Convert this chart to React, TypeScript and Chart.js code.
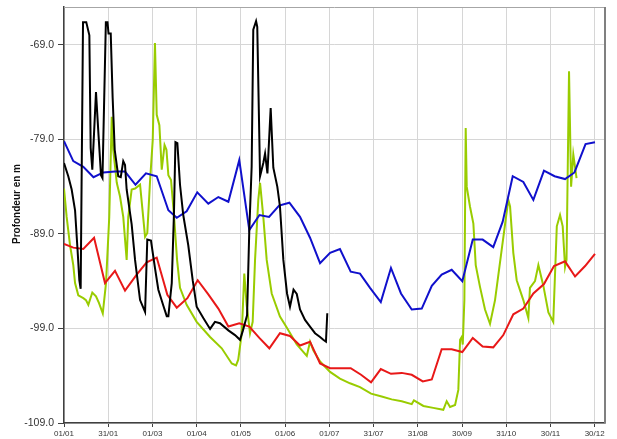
import React, { useEffect, useRef } from 'react';
import { Chart, registerables } from 'chart.js';

Chart.register(...registerables);

// Axis ticks
const xTickDays = [0, 30, 60, 90, 120, 150, 180, 210, 240, 270, 300, 330, 360];
const xTickLabels = ['01/01', '31/01', '01/03', '01/04', '01/05', '01/06', '01/07', '31/07', '31/08', '30/09', '31/10', '30/11', '30/12'];
const yTickValues = [-109, -99, -89, -79, -69];
const yTitle = 'Profondeur en m';

// Blue series (weekly)
const blueDays = [0, 6.3, 13.1, 20.0, 26.7, 34.6, 41.4, 48.5, 55.6, 62.9, 70.8, 76.5, 83.2, 90.4, 97.9, 104.7, 111.5, 118.9, 125.7, 132.6, 139.1, 145.9, 152.9, 160.1, 166.9, 173.7, 180.5, 187.2, 194.5, 200.8, 207.6, 214.9, 221.8, 228.6, 235.9, 242.7, 249.5, 256.2, 263.0, 270.2, 277.3, 284.0, 291.2, 297.6, 304.4, 311.6, 318.4, 325.6, 332.8, 339.9, 346.3, 353.8, 360.2];
const blueDepths = [-79.2, -81.3, -81.9, -83.0, -82.5, -82.4, -82.4, -83.8, -82.6, -82.9, -86.5, -87.3, -86.6, -84.6, -85.8, -85.1, -85.6, -81.2, -88.6, -87.0, -87.2, -86.0, -85.7, -87.2, -89.4, -92.1, -91.0, -90.6, -93.0, -93.2, -94.7, -96.2, -92.6, -95.3, -97.0, -96.9, -94.5, -93.3, -92.8, -94.0, -89.6, -89.6, -90.4, -87.7, -82.9, -83.5, -85.4, -82.3, -82.9, -83.2, -82.5, -79.5, -79.3];

// Red series (weekly)
const redDays = [0, 6.3, 13.1, 20.4, 27.8, 34.6, 41.4, 49.3, 56.1, 62.9, 70.1, 76.5, 83.7, 90.7, 97.9, 104.7, 111.5, 118.9, 125.7, 132.5, 139.3, 146.5, 153.3, 160.1, 166.9, 173.7, 180.5, 187.2, 194.5, 201.5, 208.3, 214.9, 221.8, 229.1, 235.9, 243.4, 249.5, 256.2, 263.0, 270.2, 277.3, 284.0, 291.2, 298.0, 304.8, 311.6, 318.4, 325.6, 332.4, 339.9, 346.7, 353.5, 360.2];
const redDepths = [-90.05, -90.45, -90.6, -89.4, -94.2, -92.9, -95.0, -93.3, -92.0, -91.5, -95.45, -96.8, -95.8, -93.9, -95.4, -96.9, -98.8, -98.45, -98.8, -100.0, -101.1, -99.5, -99.8, -100.8, -100.4, -102.7, -103.2, -103.2, -103.2, -103.9, -104.7, -103.3, -103.8, -103.7, -103.9, -104.6, -104.4, -101.2, -101.2, -101.5, -100.0, -100.9, -101.0, -99.7, -97.5, -96.9, -95.3, -94.3, -92.4, -91.9, -93.5, -92.4, -91.1];

// Green series
const greenDays = [0, 1.8, 4.1, 6.3, 7.5, 9.7, 13.1, 14.9, 16.5, 19.2, 21.7, 23.7, 26.3, 28.5, 30.7, 32.4, 33.4, 35.8, 38.0, 40.2, 42.5, 43.6, 45.9, 48.2, 51.6, 55.0, 56.5, 58.3, 60.2, 61.7, 62.9, 64.7, 66.3, 68.2, 69.5, 70.8, 72.6, 74.6, 76.7, 78.7, 83.2, 90.0, 99.1, 107.0, 113.8, 116.7, 118.2, 120.6, 122.3, 123.9, 126.2, 128.0, 129.6, 131.8, 133.0, 135.2, 137.5, 140.9, 146.5, 151.1, 157.9, 164.7, 166.9, 169.1, 173.7, 180.5, 187.2, 194.0, 200.8, 208.3, 215.5, 222.3, 229.1, 235.9, 237.4, 243.8, 250.5, 257.3, 259.6, 261.9, 265.3, 267.5, 268.7, 269.8, 270.5, 271.6, 272.5, 273.2, 275.4, 277.7, 279.3, 282.2, 285.6, 289.0, 292.4, 296.9, 301.4, 302.6, 304.8, 307.1, 311.6, 315.0, 316.1, 319.5, 321.8, 325.2, 328.6, 331.9, 334.3, 336.5, 338.3, 339.9, 340.9, 342.6, 344.0, 345.5, 347.7];
const greenDepths = [-84.2, -87.2, -90.2, -92.3, -94.2, -95.5, -95.8, -96.0, -96.5, -95.2, -95.6, -96.3, -97.4, -94.2, -87.2, -76.6, -80.1, -83.6, -85.05, -87.2, -91.75, -87.2, -84.3, -84.2, -83.8, -89.3, -88.9, -83.6, -79.05, -68.8, -76.4, -77.5, -82.2, -79.6, -80.1, -82.8, -83.3, -87.0, -91.75, -94.7, -96.5, -98.3, -99.9, -101.1, -102.7, -102.9, -102.3, -99.5, -93.2, -96.5, -99.5, -98.3, -91.75, -85.4, -83.6, -87.2, -91.75, -95.3, -97.75, -98.9, -100.7, -101.9, -100.4, -101.3, -102.5, -103.6, -104.3, -104.8, -105.2, -105.9, -106.2, -106.5, -106.7, -107.0, -106.6, -107.2, -107.4, -107.6, -106.7, -107.3, -107.1, -105.5, -100.2, -99.9, -100.7, -96.0, -77.8, -84.0, -86.1, -87.9, -92.3, -94.6, -97.0, -98.5, -96.0, -90.7, -85.4, -86.1, -91.0, -93.9, -96.0, -97.9, -94.7, -94.0, -92.3, -94.5, -97.3, -98.3, -88.2, -87.0, -88.2, -92.5, -91.75, -71.8, -84.0, -80.6, -83.1];

// Black series
const blackDays = [0, 2.9, 5.2, 7.5, 9.2, 10.4, 11.3, 12.9, 15.1, 17.2, 18.1, 19.2, 21.7, 23.4, 25.1, 26.1, 28.4, 29.5, 30.2, 31.7, 33.0, 34.4, 36.8, 38.5, 40.2, 41.4, 42.5, 45.9, 48.2, 51.6, 55.0, 56.5, 59.0, 61.7, 64.0, 67.4, 69.7, 70.8, 71.9, 73.1, 74.6, 75.6, 76.9, 78.7, 80.9, 84.3, 87.3, 90.0, 94.5, 99.1, 102.4, 105.8, 111.5, 116.0, 119.4, 121.4, 124.2, 125.7, 127.3, 128.4, 130.3, 131.1, 133.0, 135.2, 136.4, 138.0, 140.2, 142.0, 144.7, 146.5, 148.8, 151.3, 153.3, 155.7, 157.9, 160.1, 163.5, 166.9, 170.3, 173.7, 175.9, 177.7, 178.6];
const blackDepths = [-81.5, -82.9, -84.3, -86.5, -90.7, -93.9, -94.8, -66.6, -66.6, -68.0, -79.9, -82.2, -74.0, -78.5, -82.8, -83.1, -66.6, -66.6, -67.8, -67.8, -74.6, -80.1, -82.9, -83.0, -81.3, -81.7, -84.3, -88.0, -91.75, -96.0, -97.25, -89.6, -89.7, -92.6, -94.9, -96.6, -97.7, -97.7, -96.0, -94.2, -86.8, -79.3, -79.4, -83.8, -87.0, -90.2, -93.9, -96.7, -97.9, -99.05, -98.3, -98.45, -99.2, -99.7, -100.2, -99.2, -97.6, -88.6, -81.9, -67.4, -66.5, -67.1, -82.9, -81.5, -80.5, -82.6, -75.7, -82.0, -84.0, -86.1, -91.75, -95.3, -96.7, -94.9, -95.35, -97.0, -98.1, -98.8, -99.5, -99.9, -100.2, -100.4, -97.4];

const toPoints = (xs: number[], ys: number[]) => xs.map((x, i) => ({ x, y: ys[i] }));

const FONT = '"Liberation Sans", Arial, sans-serif';

const framePlugin = {
  id: 'frame',
  afterDraw(chart: any) {
    const { ctx, chartArea } = chart;
    ctx.save();
    // top border
    ctx.strokeStyle = '#a6a6a6';
    ctx.lineWidth = 1;
    ctx.beginPath();
    ctx.moveTo(chartArea.left, chartArea.top + 0.5);
    ctx.lineTo(chartArea.right, chartArea.top + 0.5);
    ctx.stroke();
    // right border
    ctx.strokeStyle = '#808080';
    ctx.lineWidth = 2;
    ctx.beginPath();
    ctx.moveTo(chartArea.right, chartArea.top);
    ctx.lineTo(chartArea.right, chartArea.bottom);
    ctx.stroke();
    // y title
    ctx.translate(17, 204);
    ctx.rotate(-Math.PI / 2);
    ctx.font = 'bold 10px "Liberation Sans Narrow", "Liberation Sans", Arial, sans-serif';
    ctx.fillStyle = '#111';
    ctx.textAlign = 'center';
    ctx.textBaseline = 'middle';
    ctx.fillText(yTitle, 0, 0);
    ctx.restore();
  },
};

export default function App() {
  const canvasRef = useRef<HTMLCanvasElement | null>(null);

  useEffect(() => {
    if (!canvasRef.current) return;
    const line = (label: string, xs: number[], ys: number[], color: string) => ({
      label,
      data: toPoints(xs, ys),
      borderColor: color,
      backgroundColor: color,
      borderWidth: 2,
      pointRadius: 0,
      tension: 0,
      fill: false,
    });
    const chart = new Chart(canvasRef.current, {
      type: 'line',
      data: {
        datasets: [
          line('Noir', blackDays, blackDepths, '#000000'),
          line('Bleu', blueDays, blueDepths, '#1010cc'),
          line('Rouge', redDays, redDepths, '#e81818'),
          line('Vert', greenDays, greenDepths, '#99cc00'),
        ],
      },
      options: {
        animation: false,
        responsive: false,
        maintainAspectRatio: false,
        layout: { padding: { top: 7, right: 12, left: 0, bottom: 0 } },
        plugins: { legend: { display: false }, tooltip: { enabled: false }, title: { display: false } },
        scales: {
          x: {
            type: 'linear',
            min: 0,
            max: 367,
            afterBuildTicks: (scale: any) => {
              scale.ticks = xTickDays.map((v) => ({ value: v }));
            },
            afterFit: (scale: any) => {
              scale.height = 16;
              scale.paddingLeft = 0;
              scale.paddingRight = 0;
            },
            ticks: {
              autoSkip: false,
              maxRotation: 0,
              minRotation: 0,
              padding: 2,
              color: '#333',
              font: { family: FONT, size: 8 },
              callback: (_v: any, i: number) => xTickLabels[i],
            },
            grid: { color: '#d6d6d6', lineWidth: 1, tickLength: 4, tickColor: '#404040' },
            border: { display: true, color: '#404040', width: 1.5 },
          },
          y: {
            type: 'linear',
            min: -109,
            max: -65,
            afterBuildTicks: (scale: any) => {
              scale.ticks = yTickValues.map((v) => ({ value: v }));
            },
            afterFit: (scale: any) => {
              scale.width = 64;
              scale.paddingTop = 0;
              scale.paddingBottom = 0;
            },
            ticks: {
              padding: 4,
              color: '#333',
              font: { family: FONT, size: 10.5 },
              callback: (v: any) => Number(v).toFixed(1),
            },
            grid: { color: '#d6d6d6', lineWidth: 1, tickLength: 6, tickColor: '#404040' },
            border: { display: true, color: '#404040', width: 1.5 },
          },
        },
      },
      plugins: [framePlugin],
    });
    return () => chart.destroy();
  }, []);

  return (
    <div style={{ position: 'fixed', left: 0, top: 0, width: 617, height: 439, background: '#fff' }}>
      <canvas ref={canvasRef} width={617} height={439} style={{ display: 'block' }} />
    </div>
  );
}
